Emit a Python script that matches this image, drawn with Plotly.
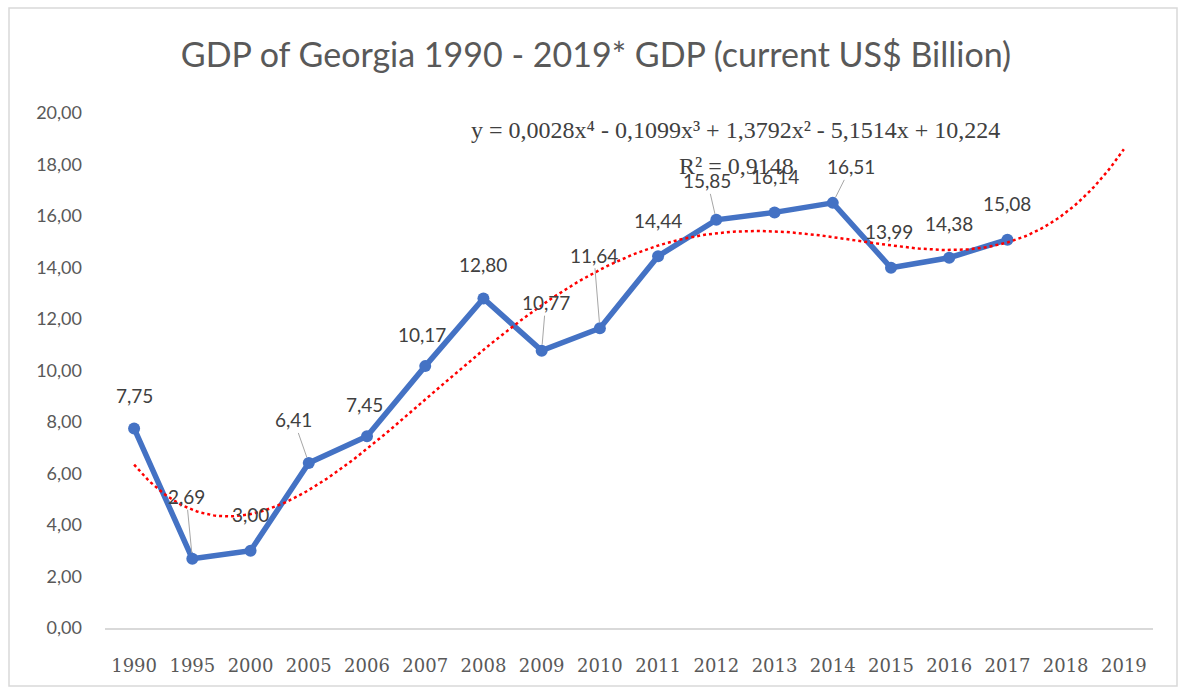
import numpy as np
import plotly.graph_objects as go

# Category labels and GDP values (current US$ billion)
years = ["1990", "1995", "2000", "2005", "2006", "2007", "2008", "2009", "2010",
         "2011", "2012", "2013", "2014", "2015", "2016", "2017", "2018", "2019"]
gdp = [7.75, 2.69, 3.00, 6.41, 7.45, 10.17, 12.80, 10.77, 11.64,
       14.44, 15.85, 16.14, 16.51, 13.99, 14.38, 15.08]
y_ticks = [0, 2, 4, 6, 8, 10, 12, 14, 16, 18, 20]
trend_equation = "y = 0,0028x⁴ - 0,1099x³ + 1,3792x² - 5,1514x + 10,224"
trend_r2 = "R² = 0,9148"

W, H = 1181, 688
L, R, T, B = 105, 1153, 113, 628  # plot area in pixels

def px_to_paper_x(px):
    return (px - L) / (R - L)

def px_to_paper_y(py):
    return (B - py) / (B - T)

x_pos = np.arange(1, len(years) + 1)
x_data = x_pos[:len(gdp)]

# 4th-order polynomial trend fitted on the observed points, extended to 2019
coef = np.polyfit(x_data, gdp, 4)
x_fine = np.linspace(1, len(years), 300)
y_fine = np.polyval(coef, x_fine)

def fmt(v):
    return f"{v:.2f}".replace(".", ",")

fig = go.Figure()
fig.add_trace(go.Scatter(
    x=x_data, y=gdp, mode="lines+markers",
    line=dict(color="#4472C4", width=5.5),
    marker=dict(size=12, color="#4472C4"),
    hoverinfo="skip", showlegend=False,
))
fig.add_trace(go.Scatter(
    x=x_fine, y=y_fine, mode="lines",
    line=dict(color="#FF0000", width=2.5, dash="dot"),
    hoverinfo="skip", showlegend=False,
))

# label offsets (pixels) and whether a leader line is drawn
label_offsets = [(0, -33, False), (-6, -62, True), (0, -36, False), (-15, -43, True),
                 (-3, -32, False), (-3, -32, False), (0, -34, False), (4, -48, True),
                 (-6, -73, True), (0, -36, False), (-9, -39, True), (0, -36, False),
                 (18, -36, True), (-2, -36, False), (0, -34, False), (0, -36, False)]

label_font = dict(family="Lato", size=19, color="#404040")
for xi, v, (dx, dy, leader) in zip(x_data, gdp, label_offsets):
    if leader:
        fig.add_annotation(x=xi, y=v, text=fmt(v), showarrow=True, ax=dx, ay=dy,
                           arrowhead=0, arrowwidth=1, arrowcolor="#A6A6A6",
                           standoff=6, font=label_font)
    else:
        fig.add_annotation(x=xi, y=v, text=fmt(v), showarrow=False,
                           xshift=dx, yshift=-dy, font=label_font)

eq_font = dict(family="Liberation Serif", size=24, color="#404040")
fig.add_annotation(xref="paper", yref="paper", x=px_to_paper_x(735), y=px_to_paper_y(130),
                   xanchor="center", yanchor="middle",
                   text=trend_equation, showarrow=False, font=eq_font)
fig.add_annotation(xref="paper", yref="paper", x=px_to_paper_x(736), y=px_to_paper_y(166),
                   xanchor="center", yanchor="middle",
                   text=trend_r2, showarrow=False, font=eq_font)

# chart border
fig.add_shape(type="rect", xref="paper", yref="paper",
              x0=px_to_paper_x(9), x1=px_to_paper_x(1177),
              y0=px_to_paper_y(686), y1=px_to_paper_y(8),
              line=dict(color="#D9D9D9", width=1.5), layer="below")

fig.update_layout(
    width=W, height=H,
    margin=dict(l=L, r=W - R, t=T, b=H - B),
    paper_bgcolor="white", plot_bgcolor="white",
    title=dict(text="GDP of Georgia 1990 - 2019* GDP (current US$ Billion)",
               x=px_to_paper_x(596), xref="paper", xanchor="center",
               y=1 - 55 / H, yanchor="middle",
               font=dict(family="Lato", size=34, color="#595959")),
    xaxis=dict(range=[0.5, len(years) + 0.5], tickmode="array",
               tickvals=list(x_pos), ticktext=years,
               showgrid=False, zeroline=False, showline=True,
               linecolor="#D9D9D9", linewidth=1.5, ticks="",
               ticklabelstandoff=21,
               tickfont=dict(family="DejaVu Serif", size=18, color="#595959")),
    yaxis=dict(range=[0, 20], tickmode="array", tickvals=y_ticks,
               ticktext=[fmt(v) for v in y_ticks],
               showgrid=False, zeroline=False, showline=False, ticks="",
               ticklabelstandoff=22,
               tickfont=dict(family="Lato", size=18, color="#595959")),
)

fig.write_html("out.html")
